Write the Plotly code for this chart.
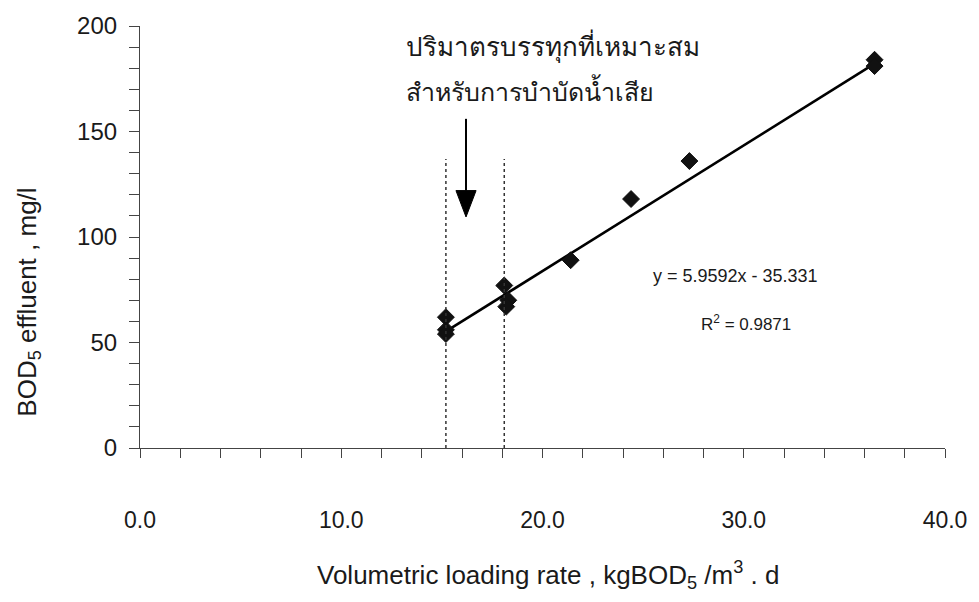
import plotly.graph_objects as go

# Volumetric loading rate (kgBOD5/m3.d) and effluent BOD5 (mg/l)
loading_rate = [15.2, 15.2, 15.2, 18.1, 18.3, 18.2, 21.4, 24.4, 27.3, 36.5, 36.5]
bod_effluent = [62, 56, 54, 77, 70, 67, 89, 118, 136, 184, 181]

# Linear trendline reported on the chart
slope = 5.9592
intercept = -35.331
r_squared = 0.9871

# Loading range suitable for treatment (dotted guide lines)
optimal_range = [15.2, 18.1]
guide_top = 137

# Axis ticks (labelled major ticks, unlabelled minor ticks in between)
x_tick_vals = [0, 10, 20, 30, 40]
x_tick_text = ["0.0", "10.0", "20.0", "30.0", "40.0"]
x_minor_step = 2
y_tick_vals = [0, 50, 100, 150, 200]
y_tick_text = ["0", "50", "100", "150", "200"]
y_minor_step = 10

note_line1 = "ปริมาตรบรรทุกที่เหมาะสม"
note_line2 = "สำหรับการบำบัดน้ำเสีย"

FONT = "Liberation Sans, Arial, sans-serif"
INK = "#1a1a1a"
AXIS = "#444444"

fig = go.Figure()

trend_x = [min(loading_rate), max(loading_rate)]
trend_y = [slope * x + intercept for x in trend_x]
fig.add_trace(go.Scatter(
    x=trend_x, y=trend_y, mode="lines",
    line=dict(color="black", width=2.6),
    hoverinfo="skip", showlegend=False,
))
fig.add_trace(go.Scatter(
    x=loading_rate, y=bod_effluent, mode="markers",
    marker=dict(symbol="diamond", size=13, color="#111111",
                line=dict(color="#111111", width=1)),
    showlegend=False,
))

# dotted guide lines
for xv in optimal_range:
    fig.add_shape(type="line", x0=xv, x1=xv, y0=0, y1=guide_top,
                  line=dict(color="#333333", width=1.5, dash="dot"))

# downward arrow pointing into the guide band
arrow_x = 16.2
arrow_top, arrow_neck, arrow_tip = 156, 122, 109.5
arrow_half = 0.5
fig.add_shape(type="line", x0=arrow_x, x1=arrow_x, y0=arrow_top, y1=arrow_neck,
              line=dict(color="black", width=2))
fig.add_shape(
    type="path",
    path=(f"M {arrow_x - arrow_half},{arrow_neck} L {arrow_x + arrow_half},{arrow_neck} "
          f"L {arrow_x},{arrow_tip} Z"),
    fillcolor="black", line=dict(color="black", width=1),
)

eq_text = f"y = {slope}x - {abs(intercept)}"
r2_text = f"R<sup>2</sup> = {r_squared}"

annotations = [
    dict(text=eq_text, x=29.6, y=81.3, xref="x", yref="y", showarrow=False,
         font=dict(family=FONT, size=18, color=INK), xanchor="center", yanchor="middle"),
    dict(text=r2_text, x=30.1, y=59.1, xref="x", yref="y", showarrow=False,
         font=dict(family=FONT, size=17, color=INK), xanchor="center", yanchor="middle"),
    dict(text=note_line1, x=0.3284, y=0.953, xref="paper", yref="paper", showarrow=False,
         font=dict(family="Noto Sans, DejaVu Sans, sans-serif", size=26, color=INK),
         xanchor="left", yanchor="middle"),
    dict(text=note_line2, x=0.3284, y=0.846, xref="paper", yref="paper", showarrow=False,
         font=dict(family="Noto Sans, DejaVu Sans, sans-serif", size=25, color=INK),
         xanchor="left", yanchor="middle"),
    dict(text="Volumetric loading rate , kgBOD<sub>5</sub> /m<sup>3</sup> . d",
         x=0.507, y=-0.302, xref="paper", yref="paper", showarrow=False,
         font=dict(family=FONT, size=26, color=INK), xanchor="center", yanchor="middle"),
    dict(text="BOD<sub>5</sub> effluent , mg/l", textangle=-90,
         x=-0.1388, y=0.345, xref="paper", yref="paper", showarrow=False,
         font=dict(family=FONT, size=26, color=INK), xanchor="center", yanchor="middle"),
]

fig.update_layout(
    width=979, height=602,
    margin=dict(l=140, r=32, t=25, b=154),
    paper_bgcolor="white", plot_bgcolor="white",
    annotations=annotations,
    showlegend=False,
)
fig.update_xaxes(
    range=[0, 40], tickmode="array", tickvals=x_tick_vals, ticktext=x_tick_text,
    ticks="outside", ticklen=9, tickcolor=AXIS, tickwidth=1,
    minor=dict(dtick=x_minor_step, tick0=0, ticks="outside", ticklen=9,
               tickcolor=AXIS, tickwidth=1, showgrid=False),
    showline=True, linecolor=AXIS, linewidth=1.2,
    showgrid=False, zeroline=False, ticklabelstandoff=42,
    tickfont=dict(family=FONT, size=23, color=INK),
)
fig.update_yaxes(
    range=[0, 200], tickmode="array", tickvals=y_tick_vals, ticktext=y_tick_text,
    ticks="outside", ticklen=10, tickcolor=AXIS, tickwidth=1,
    minor=dict(dtick=y_minor_step, tick0=0, ticks="outside", ticklen=10,
               tickcolor=AXIS, tickwidth=1, showgrid=False),
    showline=True, linecolor=AXIS, linewidth=1.2,
    showgrid=False, zeroline=False, ticklabelstandoff=7,
    tickfont=dict(family=FONT, size=24, color=INK),
)

fig.write_html("out.html")
